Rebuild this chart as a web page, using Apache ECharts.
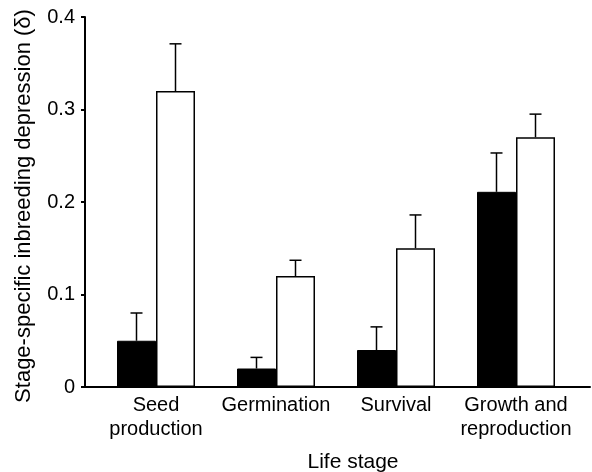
<!DOCTYPE html>
<html><head><meta charset="utf-8">
<script src="https://cdn.jsdelivr.net/npm/echarts@6/dist/echarts.min.js"></script>
<style>html,body{margin:0;padding:0;background:#fff}#c{width:592px;height:472px}</style>
</head><body><div id="c"></div>
<script>
var categories = ['Seed\nproduction', 'Germination', 'Survival', 'Growth and\nreproduction'];
var blackValues = [0.05, 0.02, 0.04, 0.211];
var blackUpper = [0.08, 0.032, 0.065, 0.253];
var whiteValues = [0.32, 0.12, 0.15, 0.27];
var whiteUpper = [0.371, 0.137, 0.186, 0.295];
var yTicks = [0, 0.1, 0.2, 0.3, 0.4];

var FONT = "'Liberation Sans', Arial, Helvetica, sans-serif";
var BW = 39;

function errData(vals, ups) {
  return vals.map(function (v, i) { return [i, v, ups[i]]; });
}
function errSeries(vals, ups, off) {
  return {
    type: 'custom', xAxisIndex: 0, yAxisIndex: 0, z: 1,
    data: errData(vals, ups),
    renderItem: function (params, api) {
      var lo = api.coord([api.value(0), api.value(1)]);
      var hi = api.coord([api.value(0), api.value(2)]);
      var x = lo[0] + off;
      return {
        type: 'group',
        children: [
          { type: 'line', shape: { x1: x, y1: lo[1], x2: x, y2: hi[1] }, style: { stroke: '#000', lineWidth: 1.5 } },
          { type: 'line', shape: { x1: x - 6, y1: hi[1], x2: x + 6, y2: hi[1] }, style: { stroke: '#000', lineWidth: 1.5 } }
        ]
      };
    }
  };
}

var chart = echarts.init(document.getElementById('c'), null, { renderer: 'canvas' });
chart.setOption({
  animation: false,
  backgroundColor: '#fff',
  title: {
    text: 'Life stage', left: 353, top: 452, textAlign: 'center', padding: 0,
    textStyle: { color: '#000', fontFamily: FONT, fontSize: 21, fontWeight: 'normal' }
  },
  grid: [
    { left: 96, right: 16, top: 17, bottom: 85, outerBoundsMode: 'none', containLabel: false },
    { left: 85, right: 2, top: 17, bottom: 85, outerBoundsMode: 'none', containLabel: false }
  ],
  xAxis: [
    { type: 'category', gridIndex: 0, data: categories,
      axisLine: { show: false }, axisTick: { show: false },
      axisLabel: { color: '#000', fontFamily: FONT, fontSize: 20, lineHeight: 24, margin: 6, interval: 0, hideOverlap: false } },
    { type: 'value', gridIndex: 1, min: 0, max: 1,
      axisLine: { show: true, lineStyle: { color: '#000', width: 2 } },
      axisTick: { show: false }, axisLabel: { show: false }, splitLine: { show: false } }
  ],
  yAxis: [
    { type: 'value', gridIndex: 0, min: 0, max: 0.4, show: false },
    { type: 'value', gridIndex: 1, min: 0, max: 0.4, interval: 0.1,
      axisLine: { show: true, lineStyle: { color: '#000', width: 2 } },
      axisTick: { show: true, length: 4, lineStyle: { color: '#000', width: 2 } },
      splitLine: { show: false },
      axisLabel: { color: '#000', fontFamily: FONT, fontSize: 20, margin: 10,
        formatter: function (v) { var i = yTicks.indexOf(Math.round(v * 10) / 10); return i >= 0 ? String(yTicks[i]) : ''; } },
      name: 'Stage-specific inbreeding depression (\u03b4)', nameLocation: 'middle', nameGap: 50,
      nameTextStyle: { color: '#000', fontFamily: FONT, fontSize: 22, padding: [0, 8, 0, 0] } }
  ],
  series: [
    { type: 'bar', xAxisIndex: 0, yAxisIndex: 0, data: blackValues, barWidth: BW, barGap: '0%', z: 2,
      itemStyle: { color: '#000', borderColor: '#000', borderWidth: 1 } },
    { type: 'bar', xAxisIndex: 0, yAxisIndex: 0, data: whiteValues, barWidth: BW, barGap: '0%', z: 2,
      itemStyle: { color: '#fff', borderColor: '#000', borderWidth: 1.5 } },
    errSeries(blackValues, blackUpper, -BW / 2),
    errSeries(whiteValues, whiteUpper, BW / 2)
  ]
});
</script></body></html>
